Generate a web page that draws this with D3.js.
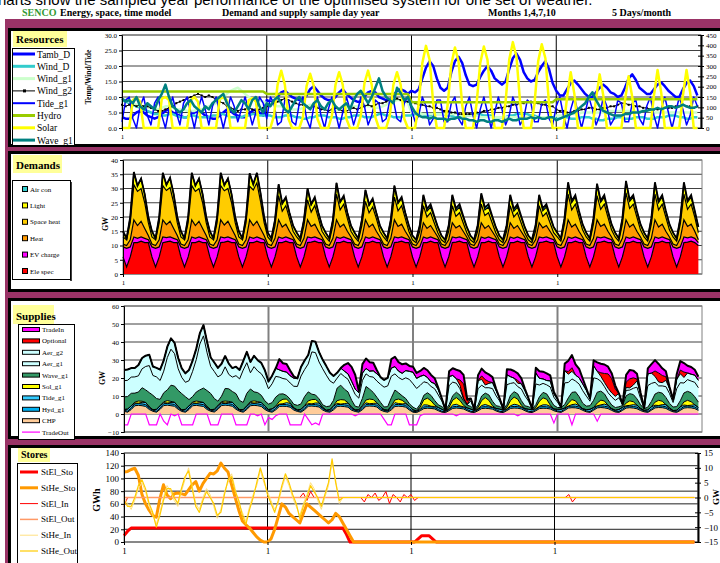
<!DOCTYPE html>
<html><head><meta charset="utf-8">
<script src="https://d3js.org/d3.v7.min.js"></script>
<style>
body{margin:0;background:#fff;}
svg{display:block;font-family:"Liberation Serif","Times New Roman",serif;}
</style></head><body>
<script>
// ---- shared x axis (4 sampled months, 5 days each, 3-hourly samples) ----
var monthLabels = ["1","1","1","1"];
var monthHours = [0,120,240,360];
var nSamples = 160;

// ---- Resources ----
var resLeftTicks = [0,5,10,15,20,25,30];
var resRightTicks = [0,50,100,150,200,250,300,350,400,450];
var tambD = [
3.5,3,3,4,5,5.5,5,4, 3.5,3,3.5,4.5,5.5,6,5,4.5, 4,3.5,3.5,4.5,5,5.5,5,4, 3.5,3,3,4,5,6,5.5,4.5, 4,3.5,3.5,4.5,5.5,6,5,4,
9,8.5,8.5,10,11.5,12,11,10, 9.5,9,9,10.5,12.5,13.5,12,10.5, 9.5,9,9,10,11.5,12.5,11,10, 9,8.5,8.5,10,11.5,12,11.5,10, 9.5,9,9,10.5,12,12.5,12,11,
12,11.5,12.5,16,19.5,21.5,20,16, 13,12,13,18,21.5,23,21,17, 14,13.5,14,16.5,18.5,20,18.5,16, 15,14,15,19,22.5,24,22,18, 16,15,15.5,18,20,21.5,19,14.5,
12,10.5,10.5,12.5,14.5,15.3,14,12.5, 11,10,10,11.5,13,14,13,11.5, 11,10,10.5,13,16,17.3,15.5,13, 12,11,11,12.5,14,14.7,13.5,12, 11,10,10,12.5,14.5,15.3,13.5,10.5];
var windD = [
9,8.5,8,7.5,7,6.5,6,5.5, 5,4.5,4.5,4,4,4.5,4.5,4, 3.5,3.5,3.5,4,4,3.5,3.5,3.5, 3.5,4,4,4.5,4.5,4,3.5,3.5, 3.5,3.5,4,4,4.5,4.5,4,4,
4,4,3.5,3.5,3.5,4,4,4, 3.5,3.5,3,3,3.5,3.5,4,4, 4,3.5,3.5,3.5,3,3,3.5,3.5, 4,4,4,3.5,3.5,3.5,4,4.5, 4.5,4,4,3.5,3.5,3.5,4,4,
4,4.5,4.5,4.5,4,4,4.5,4.5, 4.5,4.5,4,4,3.5,3.5,4,4, 4,4.5,4.5,4.5,4,4,4,3.5, 3.5,3.5,3.5,4,4,4.5,4.5,4.5, 4.5,4,4,3.5,3.5,3.5,3.5,3.5,
3,3,3.5,3.5,3,3,3,3.5, 3.5,3.5,3,3,2.5,2.5,3,3, 3,3.5,3.5,3,3,3,3.5,3.5, 3.5,3,3,3,3.5,3.5,3.5,4, 4,4,3.5,3.5,3,3,3.5,3.5];
var windG1 = [
9.5,9,8.5,8,7.5,7,7,6.5, 6.5,6,6,6.5,7,7,6.5,6, 6,6,5.5,5.5,5.5,6,6,6.5, 7,7.5,8,9,10,11,12,12.5, 13,12,11,10,9.5,9,9,8.5,
8,8,7.5,7,7,6.5,6.5,6, 6,6,6.5,7,7.5,7.5,7,6.5, 6,6,5.5,5.5,6,6,6.5,6.5, 7,7,7.5,7.5,7,7,6.5,6.5, 7,7.5,8,8.5,9,9,8.5,8,
5,5,5,4.5,4.5,4.5,4.5,4.5, 4.5,4.5,4.5,4.5,4.5,4.5,4,4, 4,4,4,3.5,3.5,3.5,3.5,3.5, 3.5,3.5,3.5,3.5,3.5,3.5,3.5,3.5, 3.5,3.5,3.5,3.5,3.5,3.5,3.5,3.5,
4,4,4,4.5,4.5,4.5,4.5,5, 5,5,5,5,5,5,5.5,5.5, 5.5,5.5,5.5,5.5,5.5,5.5,5.5,5.5, 5.5,5.5,5.5,5,5,5,5,5, 5,5,5,5,5,5,5,5];
var windG2 = [
7.5,7,7.5,7.5,7,7.5,7,7, 6.5,6,5.5,5.5,6,6.5,7,8, 8.5,9,9.5,10,10.5,11,10.5,10, 10.5,10,9,8.5,8,7,6.5,6, 5.5,6,6,6.5,6,5.5,6,6.5,
7,7.5,8,8.5,9,9.5,9,8.5, 8,7.5,7.5,7,6.5,7,6.5,6, 6,5.5,6,6.5,6,5.5,5.5,6, 6.5,6,6.5,7,7.5,7,7.5,8, 8,8.5,9,9,9.5,9,8.5,8.5,
8.5,8,7.5,7.5,7,7,6.5,6.5, 6,5.5,5.5,5,5,4.5,4.5,4.5, 4.5,4.5,5,5,5.5,5.5,6,6, 6.5,6.5,7,7,7.5,7.5,8,8, 8.5,8.5,8,8,7.5,7.5,7,7,
6,5.5,5.5,5,5,5.5,5.5,6, 6,6.5,6.5,6,6,6.5,6.5,7, 7,7.5,8,8,7.5,7.5,7,7, 6.5,6.5,6,6,6,6,6.5,6.5, 6.5,7,7,7.5,7,7,6.5,7];
var tideG1 = [
2,9,10,3,0,7,10,4, 1,8,10,4,0,6,10,5, 1,8,10,5,0,6,10,6, 1,7,10,5,0,5,10,7, 2,6,10,6,1,5,10,8,
3,10,8,1,2,9,9,2, 1,8,10,3,0,7,10,4, 0,6,10,5,0,5,10,6, 1,5,10,7,1,4,9,8, 2,3,9,9,3,2,8,10,
6,2,4,10,7,1,3,9, 9,2,2,8,10,3,1,7, 10,4,0,6,10,5,0,5, 10,6,1,4,10,7,1,3, 9,8,2,2,8,9,3,1,
7,10,4,0,6,10,5,0, 5,10,6,1,4,10,7,1, 3,9,8,2,2,8,9,3, 1,7,10,4,0,6,10,5, 0,5,10,6,1,4,10,7];
var hydro = [
11.8,11.8,11.8,11.8,11.8,11.8,11.8,11.8, 11.8,11.8,11.8,11.8,11.8,11.8,11.8,11.8, 11.8,11.8,11.8,11.8,11.8,11.8,11.8,11.8, 11.8,11.8,11.8,11.8,11.8,11.8,11.8,11.8, 11.8,11.8,11.8,11.8,11.8,11.8,11.8,11.8,
11,11,11,11,11,11,11,11, 11,11,11,11,11,11,11,11, 11,11,11,11,11,11,11,11, 11,11,11,11,11,11,11,11, 11,11,11,11,11,11,11,11,
8.3,8.3,8.3,8.3,8.3,8.3,8.3,8.3, 8.3,8.3,8.3,8.3,8.3,8.3,8.3,8.3, 8.3,8.3,8.3,8.3,8.3,8.3,8.3,8.3, 8.3,8.3,8.3,8.3,8.3,8.3,8.3,8.3, 8.3,8.3,8.3,8.3,8.3,8.3,8.3,8.3,
9.3,9.3,9.3,9.3,9.3,9.3,9.3,9.3, 9.3,9.3,9.3,9.3,9.3,9.3,9.3,9.3, 9.3,9.3,9.3,9.3,9.3,9.3,9.3,9.3, 9.3,9.3,9.3,9.3,9.3,9.3,9.3,9.3, 9.3,9.3,9.3,9.3,9.3,9.3,9.3,9.3];
var solar = [
0,0,0,9,9.8,8.5,0,0, 0,0,0,9.5,10,9,0,0, 0,0,0,9,10,8.5,0,0, 0,0,0,9.5,9.8,9,0,0, 0,0,0,9,9.6,8.5,0,0,
0,0,4,14,18.5,14,3,0, 0,0,3.5,13.5,17.5,13.5,3,0, 0,0,4,14,18,14,3,0, 0,0,4,14.5,18.5,14,3.5,0, 0,0,4,14,18,14,3,0,
0,0,8,21,26.5,22,8,0, 0,0,7.5,20.5,26,21.5,7.5,0, 0,0,8,21,26.3,22,8,0, 0,0,8.5,22,27.7,23,8.5,0, 0,0,8,21.5,27,22.5,8,0,
0,0,0,10,18,11,0,0, 0,0,0,9.5,17.3,10.5,0,0, 0,0,0,9,16.7,10,0,0, 0,0,0,10.5,18.7,11.5,0,0, 0,0,0,10.5,18.7,11.5,0,0];
var waveG1 = [
9.5,8.5,9,8,10,7,6,8, 7,6,9,11,14,10,7,6, 5,6,8,9,7,6,5,7, 6,8,9,10,11,8,6,5, 7,9,8,6,9,10,7,5,
8,7,9,10,8,6,5,7, 9,10,8,7,6,8,9,7, 6,8,9,7,6,7,8,6, 9,11,12,10,8,10,13,16, 12,10,9,8,13,11.3,9,10,
7,5,4,3.5,3.5,3,3.5,3, 3,3,2.5,3,3,3.5,3,3, 2.5,2.5,2,2.5,2.5,2,2,2.5, 2.5,2,2.5,3,2.5,2.5,3,3, 3,3.5,3,3.5,3,3,3.5,3.5,
2.5,3,3.5,4,4.5,5,6,7, 8,10,11.5,9,7,5.5,5,4.5, 4,4,4,4.5,4.5,5,5,5, 5.5,5.5,6,6,6.5,6,6.5,7, 7,6.5,7,7.5,7,6.5,6.5,7];

// ---- Demands (GW) ----
var demTicks = [0,5,10,15,20,25,30,35,40];
var eleSpec = [
6,2.5,6,11,11,11.5,11,11, 6,2.5,6,11,11.3,11.5,11,11, 6,2.5,6,11,11,11.5,11,11, 6,2.5,6,11,11.2,11.5,11,11, 6,2.5,6,11,11,11.5,11,11,
6,2.5,6,11,11,11.5,11,11, 6,2.5,6,11,11.2,11.5,11,11, 6,2.5,6,11,11,11.5,11,11, 6,2.5,6,11,11,11.5,11,11, 6,2.5,6,11,11.2,11.5,11,11,
6,2.5,6,11,11,11.5,11,11, 6,2.5,6,11,11.2,11.5,11,11, 6,2.5,6,11,11,11.5,11,11, 6,2.5,6,11,11,11.5,11,11, 6,2.5,6,11,11.2,11.5,11,11,
6,2.5,6,11,11,11.5,11,11, 6,2.5,6,11,11.2,11.5,11,11, 6,2.5,6,11,11,11.5,11,11, 6,2.5,6,11,11,11.5,11,11, 6,2.5,6,11,11.2,11.5,11,10];
var evCharge = [
3.5,6.5,3.5,2,1.5,1.5,1.5,1, 3.5,6.5,3.5,2,1.5,1.5,1.5,1, 3.5,6.5,3.5,2,1.5,1.5,1.5,1, 3.5,6.5,3.5,2,1.5,1.5,1.5,1, 3.5,6.5,3.5,2,1.5,1.5,1.5,1,
3.5,6.5,3.5,2,1.5,1.5,1.5,1, 3.5,6.5,3.5,2,1.5,1.5,1.5,1, 3.5,6.5,3.5,2,1.5,1.5,1.5,1, 3.5,6.5,3.5,2,1.5,1.5,1.5,1, 3.5,6.5,3.5,2,1.5,1.5,1.5,1,
3.5,6.5,3.5,2,1.5,1.5,1.5,1, 3.5,6.5,3.5,2,1.5,1.5,1.5,1, 3.5,6.5,3.5,2,1.5,1.5,1.5,1, 3.5,6.5,3.5,2,1.5,1.5,1.5,1, 3.5,6.5,3.5,2,1.5,1.5,1.5,1,
3.5,6.5,3.5,2,1.5,1.5,1.5,1, 3.5,6.5,3.5,2,1.5,1.5,1.5,1, 3.5,6.5,3.5,2,1.5,1.5,1.5,1, 3.5,6.5,3.5,2,1.5,1.5,1.5,1, 3.5,6.5,3.5,2,1.5,1.5,1.5,1];
var heat = [
1,1,2.5,6,4.5,5.5,3.5,1.5, 1,1,2.5,6,4.5,5.5,3.5,1.5, 1,1,2.5,6,4.5,5.5,3.5,1.5, 1,1,2.5,6,4.5,5.5,3.5,1.5, 1,1,2.5,6,4.5,5.5,3.5,1.5,
1,1,3,6,4,4.5,2.5,1, 1,1,3,6,4,4.5,2.5,1, 1,1,3,6,4,4.5,2.5,1, 1,1,3,6,4,4.5,2.5,1, 1,1,3,6,4,4.5,2.5,1,
1,1,2.5,5,3.5,4,2.5,1, 1,1,2.5,5,3.5,4,2.5,1, 1,1,2.5,5,3.5,4,2.5,1, 1,1,2.5,5,3.5,4,2.5,1, 1,1,2.5,5,3.5,4,2.5,1,
1,1,3,6,4,4.5,2.5,1, 1,1,3,6,4,4.5,2.5,1, 1,1,3,6,4,4.5,2.5,1, 1,1,3,6,4,4.5,2.5,1, 1,1,3,6,4,4.5,2.5,1];
var spaceHeat = [
2.5,2,6,12.3,12,11.5,9,4.5, 2.5,2,6,12,12,11.8,9,4.5, 2.5,2,6,12,12,11.5,9,4.5, 2.5,2,6,12,12,11.5,9,4.5, 2.5,2,6,11.8,12.5,13.5,9.5,4.5,
2.5,1.5,4.5,8.5,5.5,6.5,4.5,2, 2.5,1.5,4.5,7,5,6.5,4.5,2, 2.5,1.5,4.5,9,6,7,4.5,2, 2.5,1.5,4.5,6.5,5,6,4.5,2, 2.5,1.5,4.5,8,5.5,6.5,4.5,2,
1.5,1,3,6,4,4.5,3,1.5, 1.5,1,3,6,4,4.5,3,1.5, 1.5,1,3,6.5,4.5,4.5,3,1.5, 1.5,1,3,6,4,4.5,3,1.5, 1.5,1,3,6,4,4.5,3,1.5,
2.5,1.5,5,9,6,7,5,2.5, 2.5,1.5,5,8.5,6,7,5,2.5, 2.5,1.5,5,9.5,6.5,7,5,2.5, 2.5,1.5,5,9,6,7,5,2.5, 2.5,1.5,5,9,6,7,5,2.5];
var light = [
2,0.5,2,4.5,2,3.5,3,2, 2,0.5,2,4.5,2,3.5,3,2, 2,0.5,2,4.5,2,3.5,3,2, 2,0.5,2,4.5,2,3.5,3,2, 2,0.5,2,4.5,2,3.5,3,2,
1.5,1,2,4,2.5,2.5,2,2, 1.5,1,2,4,2.5,2.5,2,2, 1.5,1,2,4,2.5,2.5,2,2, 1.5,1,2,4,2.5,2.5,2,2, 1.5,1,2,4,2.5,2.5,2,2,
1.5,1,2,3.5,2,2,2,2, 1.5,1,2,3.5,2,2,2,2, 1.5,1,2,3.5,2,2,2,2, 1.5,1,2,3.5,2,2,2,2, 1.5,1,2,3.5,2,2,2,2,
1.5,1,2,4,2.5,2.5,2,2, 1.5,1,2,4,2.5,2.5,2,2, 1.5,1,2,4,2.5,2.5,2,2, 1.5,1,2,4,2.5,2.5,2,2, 1.5,1,2,4,2.5,2.5,2,2];
var airCon = [
0,0,0,0,0,0,0,0, 0,0,0,0,0,0,0,0, 0,0,0,0,0,0,0,0, 0,0,0,0,0,0,0,0, 0,0,0,0,0,0,0,0,
0,0,0,0,0.4,0.5,0,0, 0,0,0,0,0.4,0.5,0,0, 0,0,0,0,0.4,0.5,0,0, 0,0,0,0,0.4,0.5,0,0, 0,0,0,0,0.4,0.5,0,0,
0,0,0,0.3,0.8,1,0.4,0, 0,0,0,0.3,0.8,1,0.4,0, 0,0,0,0.3,0.8,1,0.4,0, 0,0,0,0.3,0.8,1,0.4,0, 0,0,0,0.3,0.8,1,0.4,0,
0,0,0,0.2,0.6,0.7,0.2,0, 0,0,0,0.2,0.6,0.7,0.2,0, 0,0,0,0.2,0.6,0.7,0.2,0, 0,0,0,0.2,0.6,0.7,0.2,0, 0,0,0,0.2,0.6,0.7,0.2,0];

// ---- Supplies (GW) ----
var supTicks = [-10,0,10,20,30,40,50,60];
var chp = [
1.5,1,2.5,4.6,4.8,4.6,4.2,2.5, 1.5,1,2.6,4.7,4.9,4.6,4.3,2.6, 1.4,1,2.5,4.6,4.8,4.5,4.2,2.5, 1.5,1.1,2.6,4.7,4.9,4.7,4.3,2.6, 1.5,1,2.5,4.6,4.8,4.6,4.2,2.5,
1.4,1,2.3,4.2,4.3,4.2,3.8,2.2, 1.4,1,2.4,4.3,4.4,4.2,3.9,2.2, 1.3,1,2.3,4.2,4.3,4.1,3.8,2.1, 1.4,1,2.4,4.3,4.4,4.3,3.9,2.2, 1.4,1,2.3,4.2,4.3,4.2,3.8,2.2,
1,0.8,1.8,3,3.2,3.1,2.8,1.8, 1,0.8,1.9,3.1,3.3,3.1,2.8,1.8, 1,0.8,1.8,3,3.2,3,2.7,1.7, 1,0.8,1.9,3.1,3.3,3.2,2.8,1.8, 1,0.8,1.8,3,3.2,3.1,2.8,1.8,
1.2,0.9,2,3.3,3.5,3.4,3,2, 1.2,0.9,2.1,3.4,3.6,3.4,3,2, 1.1,0.9,2,3.3,3.5,3.3,2.9,1.9, 1.2,0.9,2.1,3.4,3.6,3.5,3.1,2, 1.2,0.9,2,3.3,3.5,3.4,3,2];
var hydG1 = [
0.6,0.6,0.8,1,1,1,1,0.8, 0.6,0.6,0.8,1,1,1,1,0.8, 0.6,0.6,0.8,1,1,1,1,0.8, 0.6,0.6,0.8,1,1,1,1,0.8, 0.6,0.6,0.8,1,1,1,1,0.8,
0.6,0.6,0.8,1,1,1,1,0.8, 0.6,0.6,0.8,1,1,1,1,0.8, 0.6,0.6,0.8,1,1,1,1,0.8, 0.6,0.6,0.8,1,1,1,1,0.8, 0.6,0.6,0.8,1,1,1,1,0.8,
0.5,0.5,0.7,0.9,0.9,0.9,0.9,0.7, 0.5,0.5,0.7,0.9,0.9,0.9,0.9,0.7, 0.5,0.5,0.7,0.9,0.9,0.9,0.9,0.7, 0.5,0.5,0.7,0.9,0.9,0.9,0.9,0.7, 0.5,0.5,0.7,0.9,0.9,0.9,0.9,0.7,
0.5,0.5,0.7,0.9,0.9,0.9,0.9,0.7, 0.5,0.5,0.7,0.9,0.9,0.9,0.9,0.7, 0.5,0.5,0.7,0.9,0.9,0.9,0.9,0.7, 0.5,0.5,0.7,0.9,0.9,0.9,0.9,0.7, 0.5,0.5,0.7,0.9,0.9,0.9,0.9,0.7];
var tideSup = [
0.4,1.1,1.2,0.5,0.2,0.9,1.2,0.6, 0.3,1,1.2,0.6,0.2,0.8,1.2,0.7, 0.3,1,1.2,0.6,0.2,0.8,1.2,0.7, 0.3,0.9,1.2,0.7,0.2,0.7,1.2,0.9, 0.4,0.8,1.2,0.8,0.3,0.7,1.2,1,
0.5,1.2,1,0.3,0.4,1.1,1.1,0.4, 0.3,1,1.2,0.5,0.2,0.9,1.2,0.6, 0.2,0.8,1.2,0.7,0.2,0.7,1.2,0.8, 0.3,0.7,1.2,0.9,0.3,0.6,1.1,1, 0.4,0.5,1.1,1.1,0.5,0.4,1,1.2,
0.8,0.4,0.6,1.2,0.9,0.3,0.5,1.1, 1.1,0.4,0.4,1,1.2,0.5,0.3,0.9, 1.2,0.6,0.2,0.8,1.2,0.7,0.2,0.7, 1.2,0.8,0.3,0.6,1.2,0.9,0.3,0.5, 1.1,1,0.4,0.4,1,1.1,0.5,0.3,
0.9,1.2,0.6,0.2,0.8,1.2,0.7,0.2, 0.7,1.2,0.8,0.3,0.6,1.2,0.9,0.3, 0.5,1.1,1,0.4,0.4,1,1.1,0.5, 0.3,0.9,1.2,0.6,0.2,0.8,1.2,0.7, 0.2,0.7,1.2,0.8,0.3,0.6,1.2,0.9];
var solG1 = [
0,0,0,0.5,1.2,0.6,0,0, 0,0,0,0.5,1.3,0.6,0,0, 0,0,0,0.5,1.2,0.6,0,0, 0,0,0,0.5,1.1,0.6,0,0, 0,0,0,0.5,1.2,0.6,0,0,
0,0,0.3,1.5,2.5,2,0.3,0, 0,0,0.3,1.5,2.4,2,0.3,0, 0,0,0.3,1.5,2.5,2,0.3,0, 0,0,0.3,1.6,2.6,2.1,0.3,0, 0,0,0.3,1.5,2.5,2,0.3,0,
0,0,0.8,2.8,3.8,3,0.8,0, 0,0,0.8,2.7,3.7,3,0.8,0, 0,0,0.8,2.8,3.8,3,0.8,0, 0,0,0.9,2.9,4,3.2,0.9,0, 0,0,0.8,2.8,3.9,3.1,0.8,0,
0,0,0,1.6,2.8,1.8,0,0, 0,0,0,1.5,2.6,1.7,0,0, 0,0,0,1.5,2.5,1.6,0,0, 0,0,0,1.7,2.9,1.9,0,0, 0,0,0,1.7,2.9,1.9,0,0];
var waveSup = [
7,7,7,5,5,7.5,7,8, 8,6,3.5,5,6,9,9,9, 9,7,3.5,3,5,6.5,8,9, 9,6,2.5,3,7,7,6,7, 5,4,7,7,5,5,4,3,
3,3.5,5,4,3,2,2,2, 2.5,3,5,5,3,2.5,2,1.5, 2,2,3,7,8,6,6,4, 2,1.5,4,7.5,5.5,4,3,2.5, 1.5,2,4.5,5.5,3.5,2.5,2.5,1.5,
1.5,1,1.5,2.5,3,3,2.5,1.5, 1.5,0.5,1.5,2.5,3,3,2.5,1.5, 1.5,0.5,1.5,2.5,2.5,3,2.5,1.5, 1.5,0.5,1.5,3,3,3,2.5,1.5, 1.5,0.5,1.5,2.5,3,3,3,2,
1,1,2,3,4,5,5,3, 2,2,4,6,5,4,3,2, 1.5,1.5,1,4,4,4,3.5,2, 1,1.5,3,4.5,4.5,4.5,4,2.5, 2,2,3.5,5,5,5,4.5,3];
var aerG1 = [
9,9,9,9,9,10.5,13,15, 11,12,10.5,12,18,20,18,12, 9,8,10.5,14,18,25.5,29,21, 15,15,13.5,12,12,8,8,10, 12,18,17,9,14,12,12,12,
8.5,10.5,11.5,9.5,8.5,9,9,10, 10.5,15.5,15,15.5,23.5,23.5,20.5,20, 17.5,14,9.5,5.5,6.5,7,7,7.5, 6.5,5,10,7,7,8.5,9,10, 11,11.5,12,9,8.5,9,11.5,13.5,
13,11.5,10.5,7.5,5.5,5,6.5,5.5, 3,0,10.5,7.5,5,3.5,1,0.3, 3,0,9,6,3,4,7,5.5, 3,0,11,6.5,5,4,6.5,5.5, 3,0,11.5,6.5,5,5,7,4.5,
3,0,12,8.5,7.5,6,7,7, 5.5,2.5,12.5,7.5,5.5,4,4,4.5, 4,5,0.5,3,2,3.5,6.5,3.5, 0,12,10,6.5,3.5,4,6,5.5, 2.5,10,10,5.5,6.5,6.5,8,8];
var aerG2 = [
6,6,5,5,6,6,6,6, 5,5,6,6,6,6,6,6, 5,5,6,6,6,6,6,6, 5,5,5,6,6,6,5,5, 5,5,6,6,6,6,6,5,
4,4.5,4.5,4,4,4,4,4.5, 4.5,5,5,5,6,6,5.5,5, 5,4.5,4,3,3,3,3,3, 3,3,4,3,3,3.5,4,4, 4,4.5,4.5,4,3.5,3.5,4,4.5,
6.4,5.6,5,3.7,3,2.4,2.9,2.9, 1.4,0.1,5,3.7,2.5,1.9,0.4,0.1, 1.4,0.1,4.5,3.2,1.5,2.4,3.4,2.9, 1.4,0.1,5.5,3.7,2.5,1.9,2.9,2.9, 1.4,0.1,6,3.7,2.5,2.4,3.4,1.9,
1.7,0,6.7,4.6,4.2,3.3,3.5,3.7, 3.2,1.5,6.7,4.1,2.7,2.3,2.5,2.2, 2.2,2.5,0.2,1.6,1.2,1.8,3.5,2.2, 0.2,6.5,5.7,3.3,2.2,1.8,3.5,2.7, 1.6,5,5,3.1,3.7,3.8,4,4.1];
var optional = [
0,0,0,0,0,0,0,0, 0,0,0,0,0,0,0,0, 0,0,0,0,0,0,0,0, 0,0,0,0,0,0,0,0, 0,0,0,0,0,0,0,0,
0,0,0,0,0,0,0,0, 0,0,0,0,0,0,0,0, 0,0,0,0,0,0,0,0, 0,0,0,0,0,0,0,0, 0,0,0,0,0,0,0,0,
0,0,0,0,0,0,0,0, 0,0,0,0,0,3,8,2, 0,0,0,2,3,1,0,0, 0,0,0,0,0,1.5,0,0, 0,0,0,0,0,0,0,0,
0,0,0,1.5,2,0,0,0, 0,0,0,0,2,5,8,8, 4,0,0,3,5,4,1,0, 0,0,0,3,5,4,2,0, 0,0,2,3,0,0,0,0];
var tradeIn = [
0,0,0,0,0,0,0,0, 0,0,0,0,0,0,0,0, 0,0,0,0,0,0,0,0, 0,0,0,0,0,0,0,0, 0,0,0,0,0,0,0,0,
0,0,0,6,4.5,4.5,3,1, 0,0,0,0,0,0,0,0, 0,0,0,0,0,3.5,6,8, 8,1,5,5.5,5,4.5,2,0, 0,0,5,5.5,5,5,4,3,
3,3,3,4,4,4,3,1, 0,0,3,4,5,5,5,1, 0,0,3,4,4,4,3,1, 0,0,3,4,4,4,3,1, 0,0,3,4,4,4,3,1,
0,0,4,6,7,6,5,3, 1,0,3,5,5,5,4,3, 2,0,0,4,5,4,3,1, 0,3,5,6,5,4,3,1, 0,3,5,5,4,4,3,2];
var tradeOut = [
-6,-6,0,0,0,0,0,-6, -6,-6,0,-4,-6,0,-1,0, -6,-6,-6,-6,0,0,0,0, -6,-6,-6,0,0,0,0,-6, -6,-6,-6,0,0,-1,0,-6,
-2,-3,-1,0,0,0,-6,-6, -6,-6,0,-3,-6,-5,-6,0, 0,0,0,0,0,0,0,0, -1,0,0,0,0,0,0,0, -3,-6,-6,0,0,0,0,-6,
-6,-6,-1,0,0,0,0,0, 0,0,0,0,-1,0,0,0, 0,0,0,0,0,0,0,0, 0,0,0,0,0,-1,0,0, 0,0,0,0,0,0,0,-5,
0,0,0,0,-6,0,0,0, 0,0,0,-4,0,0,0,0, 0,0,0,0,0,0,0,0, 0,0,0,0,0,0,0,0, 0,0,0,0,0,0,0,0];

// ---- Stores ----
var stoLeftTicks = [0,20,40,60,80,100,120,140];
var stoRightTicks = [-15,-10,-5,0,5,10,15];
var stElSto = [
10,17,22,22,22,22,22,22, 22,22,22,22,22,22,22,22, 22,22,22,22,22,22,22,22, 22,22,22,22,22,22,22,22, 22,22,22,22,22,22,22,22,
22,22,22,22,22,22,22,22, 22,22,22,22,22,22,22,22, 22,22,22,22,22,22,12,0, 0,0,0,0,0,0,0,0, 0,0,0,0,0,0,0,0,
0,0,5,10,10,10,5,0, 0,0,0,0,0,0,0,0, 0,0,0,0,0,0,0,0, 0,0,0,0,0,0,0,0, 0,0,0,0,0,0,0,0,
0,0,0,0,0,0,0,0, 0,0,0,0,0,0,0,0, 0,0,0,0,0,0,0,0, 0,0,0,0,0,0,0,0, 0,0,0,0,0,0,0,0];
var stHeSto = [
110,111,114,116,105,75,60,50, 42,39,68,90,74,68,76,77, 76,74,82,90,95,80,92,100, 108,107,112,124,116,110,90,70, 50,33,27,22,15,8,3,0,
0,5,20,40,60,55,45,40, 35,30,45,60,55,50,45,40, 35,30,35,45,40,30,20,10, 0,0,0,0,0,0,0,0, 0,0,0,0,0,0,0,0,
0,0,0,0,0,0,0,0, 0,0,0,0,0,0,0,0, 0,0,0,0,0,0,0,0, 0,0,0,0,0,0,0,0, 0,0,0,0,0,0,0,0,
0,0,0,0,0,0,0,0, 0,0,0,0,0,0,0,0, 0,0,0,0,0,0,0,0, 0,0,0,0,0,0,0,0, 0,0,0,0,0,0,0,0];
var stElIn = [
-3,0,0,0,0,0,0,0, 0,0,0,0,0,0,0,0, 0,0,0,0,0,0,0,0, 0,0,0,0,0,0,0,0, 0,0,0,0,0,0,0,0,
0,0,0,0,0,0,0,0, 0,0,1.5,-1,2,0,0,0, 0,0,0,0,0,0,0,0, 0,0,0,-1.5,1,0,1.5,-1, 0,2,-2,1,0,-1.5,1,0,
1,-1,0,0,0,0,0,0, 0,0,0,0,0,0,0,0, 0,0,0,0,0,0,0,0, 0,0,0,0,0,0,0,0, 0,0,0,0,0,0,0,0,
0,0,0,0,1,-1.5,0,0, 0,0,0,0,0,0,0,0, 0,0,0,0,0,0,0,0, 0,0,0,0,0,0,0,0, 0,0,0,0,0,0,0,0];
var stElOut = [
0,0,0,0,0,0,0,0, 0,0,0,0,0,0,0,0, 0,0,0,0,0,0,0,0, 0,0,0,0,0,0,0,0, 0,0,0,0,0,0,0,0,
0,0,0,0,0,0,0,0, 0,0,0,0,0,0,0,0, 0,0,0,0,0,0,0,0, 0,0,0,0,0,0,0,0, 0,0,0,0,0,0,0,0,
0,0,0,0,0,0,0,0, 0,0,0,0,0,0,0,0, 0,0,0,0,0,0,0,0, 0,0,0,0,0,0,0,0, 0,0,0,0,0,0,0,0,
0,0,0,0,0,0,0,0, 0,0,0,0,0,0,0,0, 0,0,0,0,0,0,0,0, 0,0,0,0,0,0,0,0, 0,0,0,0,0,0,0,0];
var stHeIn = [
0,-2,-4,-1,3,5,2,-3, -6,-9,-5,0,4,2,-1,-3, 2,6,10,4,-2,-4,0,3, 1,-3,-7,-4,2,5,8,3, -2,-5,-8,-3,1,4,9,5,
2,-1,-4,-2,3,7,4,0, -3,-6,-2,1,5,3,-1,-4, 0,4,12,6,-2,0,0,0, 0,0,0,0,0,0,0,0, 0,0,0,0,0,0,0,0,
0,0,0,0,0,0,0,0, 0,0,0,0,0,0,0,0, 0,0,0,0,0,0,0,0, 0,0,0,0,0,0,0,0, 0,0,0,0,0,0,0,0,
0,0,0,0,0,0,0,0, 0,0,0,0,0,0,0,0, 0,0,0,0,0,0,0,0, 0,0,0,0,0,0,0,0, 0,0,0,0,0,0,0,0];
var stHeOut = [
-1,-3,-3,0,4,6,3,-2, -5,-10,-6,-1,3,3,0,-2, 3,7,9,3,-3,-5,-1,2, 0,-2,-6,-5,1,6,7,2, -1,-6,-9,-4,0,5,10,6,
1,-2,-5,-1,4,8,5,1, -2,-7,-3,0,4,2,0,-3, 1,5,13,5,-1,0,0,0, 0,0,0,0,0,0,0,0, 0,0,0,0,0,0,0,0,
0,0,0,0,0,0,0,0, 0,0,0,0,0,0,0,0, 0,0,0,0,0,0,0,0, 0,0,0,0,0,0,0,0, 0,0,0,0,0,0,0,0,
0,0,0,0,0,0,0,0, 0,0,0,0,0,0,0,0, 0,0,0,0,0,0,0,0, 0,0,0,0,0,0,0,0, 0,0,0,0,0,0,0,0];

// ================= drawing =================
var W = 720, H = 563;
var serif = "'Liberation Serif','Times New Roman',serif";
var svg = d3.select("body").append("svg").attr("width", W).attr("height", H);
svg.append("rect").attr("width", W).attr("height", H).attr("fill", "#fff");

svg.append("text").attr("x", -2).attr("y", 5)
  .style("font-family", "'Liberation Sans',Arial,sans-serif").style("font-size", "15px")
  .text("harts show the sampled year performance of the optimised system for one set of weather.");

var header = [
  {t:"SENCO", x:22, c:"#339933"},
  {t:"Energy, space, time model", x:60, c:"#000"},
  {t:"Demand and supply sample day year", x:222, c:"#000"},
  {t:"Months 1,4,7,10", x:488, c:"#000"},
  {t:"5 Days/month", x:612, c:"#000"}];
svg.selectAll(".hdr").data(header).join("text")
  .attr("x", d => d.x).attr("y", 16).attr("fill", d => d.c)
  .style("font-family", serif).style("font-size", "10px").style("font-weight", "bold")
  .text(d => d.t);

svg.append("rect").attr("x", 5).attr("y", 19).attr("width", W).attr("height", H).attr("fill", "#993366");

function panel(y0, y1) {
  svg.append("rect").attr("x", 9.5).attr("y", y0 + 1.5).attr("width", W + 10).attr("height", y1 - y0 - 3)
    .attr("fill", "#fff").attr("stroke", "#000").attr("stroke-width", 3);
}
panel(28, 147);
panel(151, 292);
panel(298, 439);
panel(445, 575);

function titleBox(x, y, w, h, label, fs) {
  svg.append("rect").attr("x", x).attr("y", y).attr("width", w).attr("height", h).attr("fill", "#ffff99");
  svg.append("text").attr("x", x + 3).attr("y", y + h - 4).style("font-family", serif)
    .style("font-size", fs + "px").style("font-weight", "bold").text(label);
}

function styleAxis(g, fs) {
  g.selectAll("text").style("font-family", serif).style("font-size", fs + "px").attr("fill", "#000");
  g.selectAll("line").attr("stroke", "#000");
  g.select(".domain").attr("stroke", "#000");
}

function grid(x, y, ticks, col, vcol, vw) {
  var g = svg.append("g");
  var r = x.range();
  g.selectAll(".h").data(ticks).join("line")
    .attr("x1", r[0]).attr("x2", r[1]).attr("y1", d => y(d)).attr("y2", d => y(d))
    .attr("stroke", col).attr("stroke-width", 1);
  g.selectAll(".v").data(monthHours.slice(1)).join("line")
    .attr("x1", d => x(d)).attr("x2", d => x(d)).attr("y1", y.range()[0]).attr("y2", y.range()[1])
    .attr("stroke", vcol).attr("stroke-width", vw);
  g.append("rect").attr("x", r[0]).attr("y", y.range()[1]).attr("width", r[1] - r[0])
    .attr("height", y.range()[0] - y.range()[1]).attr("fill", "none").attr("stroke", "#808080");
}

function xAxis(x, yPos, fs) {
  var g = svg.append("g").attr("transform", "translate(0," + yPos + ")")
    .call(d3.axisBottom(x).tickValues(monthHours).tickFormat((d, i) => monthLabels[i]).tickSize(3).tickPadding(3));
  g.select(".domain").remove();
  styleAxis(g, fs);
}

function yTitle(txt, x, y, fs) {
  svg.append("text").attr("transform", "translate(" + x + "," + y + ") rotate(-90)")
    .attr("text-anchor", "middle").style("font-family", serif).style("font-size", fs + "px")
    .style("font-weight", "bold").text(txt);
}

var idx = d3.range(nSamples);

// ---------- Panel 1: Resources ----------
var x1 = d3.scaleLinear().domain([0, 480]).range([122, 701]);
var y1 = d3.scaleLinear().domain([0, 30]).range([128, 35]);
var y1r = d3.scaleLinear().domain([0, 450]).range([128, 35]);
grid(x1, y1, resLeftTicks, "#404040", "#000", 1);
var resSeries = [
  {name:"Tamb_D", v:tambD, c:"#0000ff", w:2.5},
  {name:"Wind_D", v:windD, c:"#33cccc", w:2.5},
  {name:"Wind_g1", v:windG1, c:"#ccffcc", w:2.5},
  {name:"Wind_g2", v:windG2, c:"#000000", w:1, dot:true},
  {name:"Tide_g1", v:tideG1, c:"#0000ff", w:1.5},
  {name:"Hydro", v:hydro, c:"#99cc00", w:2.5},
  {name:"Solar", v:solar, c:"#ffff00", w:2.5},
  {name:"Wave_g1", v:waveG1, c:"#008080", w:2.5}];
resSeries.forEach(function(s) {
  var line = d3.line().x((d, i) => x1(i * 3)).y(d => y1(d));
  svg.append("path").datum(s.v).attr("d", line).attr("fill", "none")
    .attr("stroke", s.c).attr("stroke-width", s.w).attr("stroke-linejoin", "round");
  if (s.dot) {
    svg.append("g").selectAll("rect").data(s.v).join("rect")
      .attr("x", (d, i) => x1(i * 3) - 1).attr("y", d => y1(d) - 1).attr("width", 2).attr("height", 2).attr("fill", "#000");
  }
});
var ga = svg.append("g").attr("transform", "translate(122,0)")
  .call(d3.axisLeft(y1).tickValues(resLeftTicks).tickFormat(d3.format(".1f")).tickSize(3).tickPadding(2));
styleAxis(ga, 7);
var gr = svg.append("g").attr("transform", "translate(701,0)")
  .call(d3.axisRight(y1r).tickValues(resRightTicks).tickSizeInner(3).tickSizeOuter(0).tickPadding(2));
gr.selectAll(".tick line").attr("x1", -3);
gr.select(".domain").attr("stroke-width", 2);
styleAxis(gr, 7);
xAxis(x1, 128, 7);
yTitle("Temp/Wind/Tide", 91, 77, 7.5);

titleBox(13, 31, 54, 16, "Resources", 11);
svg.append("rect").attr("x", 12.5).attr("y", 48.5).attr("width", 62).attr("height", 97).attr("fill", "#fff").attr("stroke", "#000");
var lg1 = svg.append("g").selectAll("g").data(resSeries).join("g")
  .attr("transform", (d, i) => "translate(0," + (54 + i * 12.3) + ")");
lg1.append("line").attr("x1", 13).attr("x2", 35).attr("stroke", d => d.c).attr("stroke-width", d => d.w === 1 ? 1 : d.w + 0.5);
lg1.filter(d => d.dot).append("rect").attr("x", 23).attr("y", -1.5).attr("width", 3).attr("height", 3).attr("fill", "#000");
lg1.append("text").attr("x", 37).attr("y", 3.5).style("font-family", serif).style("font-size", "9.5px").text(d => d.name);

// ---------- Panel 2: Demands ----------
var x2 = d3.scaleLinear().domain([0, 480]).range([123, 702]);
var y2 = d3.scaleLinear().domain([0, 40]).range([274, 160]);
grid(x2, y2, demTicks, "#404040", "#000", 1);
var demKeys = [
  {k:"ele", name:"Ele spec", v:eleSpec, c:"#ff0000"},
  {k:"ev", name:"EV charge", v:evCharge, c:"#ff00ff"},
  {k:"heat", name:"Heat", v:heat, c:"#ff9900"},
  {k:"space", name:"Space heat", v:spaceHeat, c:"#ffcc00"},
  {k:"light", name:"Light", v:light, c:"#ffff00"},
  {k:"air", name:"Air con", v:airCon, c:"#33cccc"}];
var demRows = idx.map(function(i) { var r = {i:i}; demKeys.forEach(s => r[s.k] = s.v[i]); return r; });
var demStack = d3.stack().keys(demKeys.map(s => s.k))(demRows);
var area2 = d3.area().x(d => x2(d.data.i * 3)).y0(d => y2(d[0])).y1(d => y2(d[1]));
var top2 = d3.line().x(d => x2(d.data.i * 3)).y(d => y2(d[1]));
svg.append("g").selectAll("path").data(demStack).join("path").attr("d", area2)
  .attr("fill", (d, i) => demKeys[i].c);
svg.append("g").selectAll("path").data(demStack).join("path").attr("d", top2)
  .attr("fill", "none").attr("stroke", "#000").attr("stroke-width", (d, i) => i === demStack.length - 1 ? 1.8 : 1.2);
var g2a = svg.append("g").attr("transform", "translate(123,0)")
  .call(d3.axisLeft(y2).tickValues(demTicks).tickSize(3).tickPadding(2));
styleAxis(g2a, 7);
xAxis(x2, 274, 7);
yTitle("GW", 108, 224, 8);

titleBox(13, 155, 49, 18, "Demands", 11);
svg.append("rect").attr("x", 12.5).attr("y", 180.5).attr("width", 58).attr("height", 99).attr("fill", "#fff").attr("stroke", "#000");
svg.append("line").attr("x1", 71).attr("x2", 71).attr("y1", 182).attr("y2", 281).attr("stroke", "#000").attr("stroke-width", 1.5);
var demLegend = demKeys.slice().reverse();
var lg2 = svg.append("g").selectAll("g").data(demLegend).join("g")
  .attr("transform", (d, i) => "translate(0," + (189 + i * 16.4) + ")");
lg2.append("rect").attr("x", 22.5).attr("y", -2.5).attr("width", 5).attr("height", 5).attr("fill", d => d.c).attr("stroke", "#000");
lg2.append("text").attr("x", 30).attr("y", 2.5).style("font-family", serif).style("font-size", "7px").text(d => d.name);

// ---------- Panel 3: Supplies ----------
var x3 = d3.scaleLinear().domain([0, 480]).range([124, 702]);
var y3 = d3.scaleLinear().domain([-10, 60]).range([432, 306]);
grid(x3, y3, supTicks, "#404040", "#808080", 2);
var supKeys = [
  {k:"chp", name:"CHP", v:chp, c:"#ffcc99"},
  {k:"hyd", name:"Hyd_g1", v:hydG1, c:"#00b0f0"},
  {k:"tide", name:"Tide_g1", v:tideSup, c:"#33ccff"},
  {k:"sol", name:"Sol_g1", v:solG1, c:"#ffff00"},
  {k:"wave", name:"Wave_g1", v:waveSup, c:"#339966"},
  {k:"aer1", name:"Aer_g1", v:aerG1, c:"#ccffff"},
  {k:"aer2", name:"Aer_g2", v:aerG2, c:"#ccffff"},
  {k:"opt", name:"Optional", v:optional, c:"#ff0000"},
  {k:"tin", name:"TradeIn", v:tradeIn, c:"#ff00ff"}];
var supRows = idx.map(function(i) { var r = {i:i}; supKeys.forEach(s => r[s.k] = s.v[i]); return r; });
var supStack = d3.stack().keys(supKeys.map(s => s.k))(supRows);
var area3 = d3.area().x(d => x3(d.data.i * 3)).y0(d => y3(d[0])).y1(d => y3(d[1]));
var top3 = d3.line().x(d => x3(d.data.i * 3)).y(d => y3(d[1]));
svg.append("g").selectAll("path").data(supStack).join("path").attr("d", area3)
  .attr("fill", (d, i) => supKeys[i].c);
svg.append("g").selectAll("path").data(supStack).join("path").attr("d", top3)
  .attr("fill", "none").attr("stroke", "#000").attr("stroke-linejoin", "round")
  .attr("stroke-width", (d, i) => i === supStack.length - 1 ? 2 : 1);
svg.append("path").datum(tradeOut).attr("d", d3.line().x((d, i) => x3(i * 3)).y(d => y3(d)))
  .attr("fill", "none").attr("stroke", "#ff00ff").attr("stroke-width", 1.2);
var g3a = svg.append("g").attr("transform", "translate(124,0)")
  .call(d3.axisLeft(y3).tickValues(supTicks).tickSize(3).tickPadding(2));
styleAxis(g3a, 7);
yTitle("GW", 105, 378, 8);

titleBox(13, 305, 41, 19, "Supplies", 11);
svg.append("rect").attr("x", 18.5).attr("y", 324.5).attr("width", 56).attr("height", 115).attr("fill", "#fff").attr("stroke", "#000");
var supLegend = supKeys.slice().reverse().concat([{name:"TradeOut", c:"#ff00ff", line:true}]);
var lg3 = svg.append("g").selectAll("g").data(supLegend).join("g")
  .attr("transform", (d, i) => "translate(0," + (329.5 + i * 11.4) + ")");
lg3.filter(d => !d.line).append("rect").attr("x", 22.5).attr("y", -2).attr("width", 17).attr("height", 4)
  .attr("fill", d => d.c).attr("stroke", "#000");
lg3.filter(d => d.line).append("line").attr("x1", 22).attr("x2", 40).attr("stroke", d => d.c).attr("stroke-width", 1.2);
lg3.append("text").attr("x", 42).attr("y", 2.5).style("font-family", serif).style("font-size", "7px").text(d => d.name);

// ---------- Panel 4: Stores ----------
var x4 = d3.scaleLinear().domain([0, 480]).range([124, 698]);
var y4 = d3.scaleLinear().domain([0, 140]).range([542, 453]);
var y4r = d3.scaleLinear().domain([-15, 15]).range([542, 453]);
grid(x4, y4, stoLeftTicks, "#202020", "#000", 1);
var stoSeries = [
  {name:"StEl_Sto", v:stElSto, y:y4, c:"#ff0000", w:3},
  {name:"StHe_Sto", v:stHeSto, y:y4, c:"#ff9900", w:3},
  {name:"StEl_In", v:stElIn, y:y4r, c:"#ff0000", w:1},
  {name:"StEl_Out", v:stElOut, y:y4r, c:"#ff9966", w:1.5},
  {name:"StHe_In", v:stHeIn, y:y4r, c:"#ffe080", w:1},
  {name:"StHe_Out", v:stHeOut, y:y4r, c:"#ffcc00", w:1.2}];
stoSeries.forEach(function(s) {
  svg.append("path").datum(s.v).attr("d", d3.line().x((d, i) => x4(i * 3)).y(d => s.y(d)))
    .attr("fill", "none").attr("stroke", s.c).attr("stroke-width", s.w).attr("stroke-linejoin", "round");
});
var g4a = svg.append("g").attr("transform", "translate(124,0)")
  .call(d3.axisLeft(y4).tickValues(stoLeftTicks).tickSize(3).tickPadding(2));
styleAxis(g4a, 9);
var g4r = svg.append("g").attr("transform", "translate(698,0)")
  .call(d3.axisRight(y4r).tickValues(stoRightTicks).tickSizeInner(3).tickSizeOuter(0).tickPadding(3));
g4r.selectAll(".tick line").attr("x1", -3);
g4r.select(".domain").attr("stroke-width", 2);
styleAxis(g4r, 9);
xAxis(x4, 542, 9);
yTitle("GWh", 100, 500, 10);
yTitle("GW", 719, 497, 9);

titleBox(18, 448, 32, 14, "Stores", 10);
svg.append("rect").attr("x", 17.5).attr("y", 463.5).attr("width", 60).attr("height", 110).attr("fill", "#fff").attr("stroke", "#000");
var lg4 = svg.append("g").selectAll("g").data(stoSeries).join("g")
  .attr("transform", (d, i) => "translate(0," + (472 + i * 15.8) + ")");
lg4.append("line").attr("x1", 20).attr("x2", 38).attr("stroke", d => d.c).attr("stroke-width", d => d.w);
lg4.append("text").attr("x", 41).attr("y", 3).style("font-family", serif).style("font-size", "9px").text(d => d.name);
</script>
</body></html>
